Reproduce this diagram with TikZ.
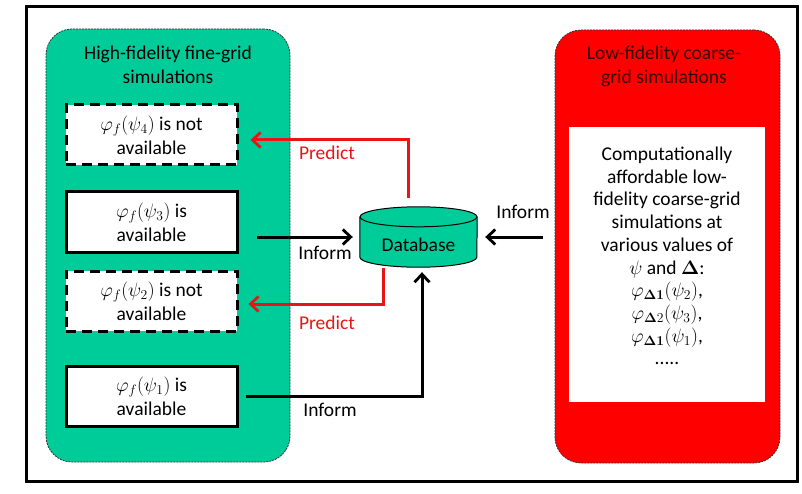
\RequirePackage{fix-cm}
\documentclass[tikz,border=0pt]{standalone}
\usepackage[no-math]{fontspec}
\setmainfont{Carlito}
\usetikzlibrary{arrows.meta,calc,backgrounds}
\definecolor{hfgreen}{RGB}{0,204,153}
\definecolor{lfred}{RGB}{255,0,0}
\definecolor{darktitle}{RGB}{60,0,0}
\definecolor{predred}{RGB}{235,20,20}
\tikzset{
  txt/.style={font=\fontsize{19.5}{24}\selectfont, align=center},
  region/.style={rounded corners=26pt, draw=black!80, line width=0.8pt, dash pattern=on 2pt off 1pt},
  availbox/.style={txt, draw=black, fill=white, line width=3pt, minimum width=171pt, minimum height=60pt, inner sep=2pt},
  missbox/.style={availbox, dash pattern=on 10pt off 6pt},
  arr/.style={line width=3pt, -{Straight Barb[length=8pt,width=15pt,line width=2.8pt]}},
  predarr/.style={arr, draw=predred},
  lbl/.style={txt, inner sep=0pt},
  predlbl/.style={lbl, text=predred},
}
\begin{document}
\begin{tikzpicture}[x=1pt,y=-1pt]
\useasboundingbox (0,0) rectangle (802,494);
% outer frame
\node[draw=black, line width=3pt, minimum width=771pt, minimum height=474pt, inner sep=0pt] (frame) at (411.5,244) {};
% regions
\node[region, fill=hfgreen, minimum width=244pt, minimum height=433pt, inner sep=0pt] (hf) at (168,245.5) {};
\node[region, fill=lfred, minimum width=225pt, minimum height=433pt, inner sep=0pt] (lf) at (667.5,246.5) {};
% titles
\node[txt] (hft) at (168,65) {High-fidelity fine-grid\\simulations};
\node[txt, text=darktitle] (lft) at (664,66) {Low-fidelity coarse-\\grid simulations};
% left boxes
\node[missbox] (b1) at (151.5,135) {$\varphi_f(\psi_4)$ is not\\available};
\node[availbox] (b2) at (151.5,222) {$\varphi_f(\psi_3)$ is\\available};
\node[missbox] (b3) at (151.5,301) {$\varphi_f(\psi_2)$ is not\\available};
\node[availbox] (b4) at (151.5,396) {$\varphi_f(\psi_1)$ is\\available};
% white box in red region
\node[fill=white, minimum width=196pt, minimum height=275pt, inner sep=0pt] (lfbox) at (667,264.5) {};
\node[txt, inner sep=0pt, font=\fontsize{19.5}{22.7}\selectfont] (lftext) at (667,256)
 {Computationally\\affordable low-\\fidelity coarse-grid\\simulations at\\various values of\\$\psi$ and $\mathbf{\Delta}$:\\
  $\varphi_{\mathbf{\Delta 1}}(\psi_2)$,\\$\varphi_{\mathbf{\Delta}2}(\psi_3)$,\\$\varphi_{\mathbf{\Delta 1}}(\psi_1)$,\\.....};
% database
\node[inner sep=0pt, minimum width=117pt, minimum height=60pt] (db) at (418.5,237) {};
\fill[hfgreen] ([yshift=-10pt]db.north west) -- ([yshift=10pt]db.south west)
  arc[start angle=180, end angle=360, x radius=58.5pt, y radius=10pt]
  -- ([yshift=-10pt]db.north east)
  arc[start angle=0, end angle=180, x radius=58.5pt, y radius=10pt] -- cycle;
\draw[line width=1pt] ([yshift=-10pt]db.north west) -- ([yshift=10pt]db.south west)
  arc[start angle=180, end angle=360, x radius=58.5pt, y radius=10pt]
  -- ([yshift=-10pt]db.north east);
\draw[line width=1pt] ([yshift=-10pt]db.north) ellipse[x radius=58.5pt, y radius=10pt];
\node[txt, inner sep=0pt] (dbt) at ([yshift=-8pt]db.center) {Database};
% connectors
\draw[arr] ([xshift=18pt]b2.east |- db.west) -- ([xshift=-7pt]db.west);
\draw[arr] ([xshift=-12pt]lf.west |- db.east) -- ([xshift=8pt]db.east);
\draw[arr] ([xshift=7pt]b4.east) -| ([xshift=3.5pt,yshift=-5pt]db.south);
\draw[predarr] ([xshift=-10.5pt,yshift=9pt]db.north) |- ([xshift=12pt,yshift=-5pt]b1.east);
\draw[predarr] ([xshift=-35.5pt,yshift=-1pt]db.south) |- ([xshift=10pt,yshift=-3pt]b3.east);
% labels
\node[lbl] (l1) at (325,253) {Inform};
\node[lbl] (l2) at (523,212) {Inform};
\node[lbl] (l3) at (330,410) {Inform};
\node[predlbl] (p1) at (327,153) {Predict};
\node[predlbl] (p2) at (327,323) {Predict};
\end{tikzpicture}
\end{document}
